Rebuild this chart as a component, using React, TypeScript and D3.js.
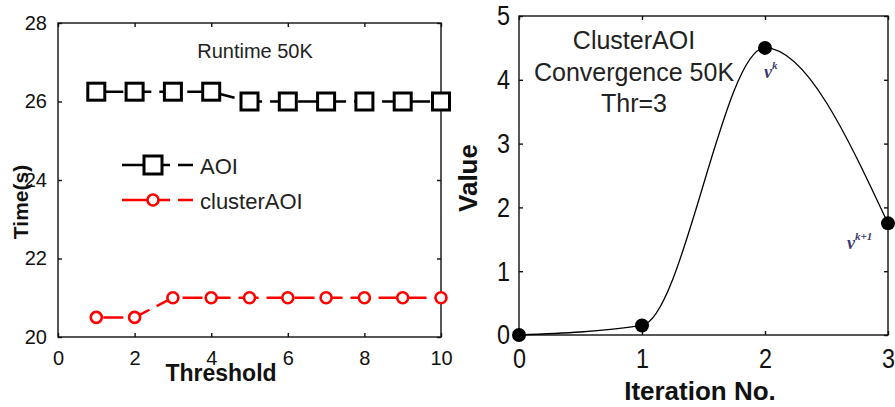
import React, { useEffect, useRef } from 'react';
import * as d3 from 'd3';

// left panel: runtime vs threshold
const thresholds = [1, 2, 3, 4, 5, 6, 7, 8, 9, 10];
const aoiTime = [26.25, 26.25, 26.25, 26.25, 26, 26, 26, 26, 26, 26];
const clusterAoiTime = [20.5, 20.5, 21, 21, 21, 21, 21, 21, 21, 21];
const leftXTicks = [0, 2, 4, 6, 8, 10];
const leftYTicks = [20, 22, 24, 26, 28];

// right panel: convergence
const iterations = [0, 1, 2, 3];
const convergenceValue = [0, 0.15, 4.5, 1.75];
const rightXTicks = [0, 1, 2, 3];
const rightYTicks = [0, 1, 2, 3, 4, 5];

const SANS = '"Liberation Sans", Arial, sans-serif';

export default function App() {
  const ref = useRef<SVGSVGElement | null>(null);

  useEffect(() => {
    if (!ref.current) return;
    const svg = d3.select(ref.current);
    svg.selectAll('*').remove();
    svg.append('rect').attr('width', 895).attr('height', 407).attr('fill', '#fff');

    // ---------- left panel ----------
    const x1 = d3.scaleLinear().domain([0, 10]).range([58, 441]);
    const y1 = d3.scaleLinear().domain([20, 28]).range([337, 23]);
    const L = svg.append('g');

    L.append('rect')
      .attr('x', x1(0)).attr('y', y1(28))
      .attr('width', x1(10) - x1(0)).attr('height', y1(20) - y1(28))
      .attr('fill', 'none').attr('stroke', '#111').attr('stroke-width', 1.4);

    const styleAxis = (g: any, size: number, narrow = false) => {
      g.select('.domain').remove();
      g.selectAll('line').attr('stroke', '#111').attr('stroke-width', 1.4);
      const t = g.selectAll('text').attr('fill', '#111').style('font-size', `${size}px`).style('font-family', SANS);
      // the right panel uses a tall narrow face for its tick numbers
      if (narrow) t.attr('textLength', 13).attr('lengthAdjust', 'spacingAndGlyphs');
    };

    L.append('g').attr('transform', `translate(0,${y1(20)})`)
      .call(d3.axisBottom(x1).tickValues(leftXTicks).tickSize(-4).tickPadding(14).tickFormat(d3.format('d')))
      .call((g: any) => styleAxis(g, 20));
    L.append('g').attr('transform', `translate(0,${y1(28)})`)
      .call(d3.axisTop(x1).tickValues(leftXTicks).tickSize(-4).tickFormat(() => ''))
      .call((g: any) => styleAxis(g, 20));
    L.append('g').attr('transform', `translate(${x1(0)},0)`)
      .call(d3.axisLeft(y1).tickValues(leftYTicks).tickSize(-4).tickPadding(11).tickFormat(d3.format('d')))
      .call((g: any) => styleAxis(g, 20));
    L.append('g').attr('transform', `translate(${x1(10)},0)`)
      .call(d3.axisRight(y1).tickValues(leftYTicks).tickSize(-4).tickFormat(() => ''))
      .call((g: any) => styleAxis(g, 20));

    const line1 = d3.line<number>().x((_, i) => x1(thresholds[i])).y(d => y1(d));
    const dash = '20,8';

    L.append('path').datum(aoiTime).attr('d', line1)
      .attr('fill', 'none').attr('stroke', '#000').attr('stroke-width', 2.5)
      .attr('stroke-dasharray', dash).attr('stroke-dashoffset', 21);
    L.append('path').datum(clusterAoiTime).attr('d', line1)
      .attr('fill', 'none').attr('stroke', '#ff0000').attr('stroke-width', 2.5)
      .attr('stroke-dasharray', dash).attr('stroke-dashoffset', 21);

    L.selectAll('.sq').data(aoiTime).enter().append('rect')
      .attr('x', (_, i) => x1(thresholds[i]) - 8.5).attr('y', d => y1(d) - 8.5)
      .attr('width', 17).attr('height', 17)
      .attr('fill', '#fff').attr('stroke', '#000').attr('stroke-width', 3);
    L.selectAll('.ci').data(clusterAoiTime).enter().append('circle')
      .attr('cx', (_, i) => x1(thresholds[i])).attr('cy', d => y1(d)).attr('r', 5.5)
      .attr('fill', '#fff').attr('stroke', '#ff0000').attr('stroke-width', 2.6);

    L.append('text').attr('x', 255).attr('y', 58).attr('text-anchor', 'middle')
      .style('font-family', SANS).style('font-size', '20px').attr('fill', '#222')
      .text('Runtime 50K');

    // legend
    const legend = [
      { label: 'AOI', color: '#000', shape: 'square', y: 165 },
      { label: 'clusterAOI', color: '#ff0000', shape: 'circle', y: 200 },
    ];
    legend.forEach(item => {
      L.append('line').attr('x1', 122).attr('x2', 193).attr('y1', item.y).attr('y2', item.y)
        .attr('stroke', item.color).attr('stroke-width', 2.5).attr('stroke-dasharray', '48,8,15');
      if (item.shape === 'square') {
        L.append('rect').attr('x', 153 - 9).attr('y', item.y - 9).attr('width', 18).attr('height', 18)
          .attr('fill', '#fff').attr('stroke', item.color).attr('stroke-width', 3);
      } else {
        L.append('circle').attr('cx', 153).attr('cy', item.y).attr('r', 5.5)
          .attr('fill', '#fff').attr('stroke', item.color).attr('stroke-width', 2.6);
      }
      L.append('text').attr('x', 200).attr('y', item.y + 9)
        .style('font-family', SANS).style('font-size', '22px').attr('fill', '#222')
        .text(item.label);
    });

    L.append('text').attr('x', 221).attr('y', 381).attr('text-anchor', 'middle')
      .style('font-family', SANS).style('font-size', '23px').style('font-weight', 'bold').attr('fill', '#111')
      .text('Threshold');
    L.append('text').attr('transform', 'translate(28,202) rotate(-90)').attr('text-anchor', 'middle')
      .style('font-family', SANS).style('font-size', '21px').style('font-weight', 'bold').attr('fill', '#111')
      .text('Time(s)');

    // ---------- right panel ----------
    const x2 = d3.scaleLinear().domain([0, 3]).range([519, 888]);
    const y2 = d3.scaleLinear().domain([0, 5]).range([335, 16]);
    const R = svg.append('g');

    R.append('rect')
      .attr('x', x2(0)).attr('y', y2(5))
      .attr('width', x2(3) - x2(0)).attr('height', y2(0) - y2(5))
      .attr('fill', 'none').attr('stroke', '#111').attr('stroke-width', 1.4);

    R.append('g').attr('transform', `translate(0,${y2(0)})`)
      .call(d3.axisBottom(x2).tickValues(rightXTicks).tickSize(-4).tickPadding(13).tickFormat(d3.format('d')))
      .call((g: any) => styleAxis(g, 28, true));
    R.append('g').attr('transform', `translate(0,${y2(5)})`)
      .call(d3.axisTop(x2).tickValues(rightXTicks).tickSize(-4).tickFormat(() => ''))
      .call((g: any) => styleAxis(g, 28));
    R.append('g').attr('transform', `translate(${x2(0)},0)`)
      .call(d3.axisLeft(y2).tickValues(rightYTicks).tickSize(-4).tickPadding(9).tickFormat(d3.format('d')))
      .call((g: any) => styleAxis(g, 28, true));
    R.append('g').attr('transform', `translate(${x2(3)},0)`)
      .call(d3.axisRight(y2).tickValues(rightYTicks).tickSize(-4).tickFormat(() => ''))
      .call((g: any) => styleAxis(g, 28));

    const line2 = d3.line<number>()
      .x((_, i) => x2(iterations[i])).y(d => y2(d))
      .curve(d3.curveMonotoneX);
    R.append('path').datum(convergenceValue).attr('d', line2)
      .attr('fill', 'none').attr('stroke', '#000').attr('stroke-width', 1.3);

    R.selectAll('.pt').data(convergenceValue).enter().append('circle')
      .attr('cx', (_, i) => x2(iterations[i])).attr('cy', d => y2(d)).attr('r', 7)
      .attr('fill', '#000');

    ['ClusterAOI', 'Convergence 50K', 'Thr=3'].forEach((t, i) => {
      R.append('text').attr('x', 634).attr('y', 49 + i * 31.5).attr('text-anchor', 'middle')
        .style('font-family', SANS).style('font-size', '25px').attr('fill', '#222')
        .text(t);
    });

    const annot = [
      { i: 2, sup: 'k', dx: -1, dy: 30 },
      { i: 3, sup: 'k+1', dx: -41, dy: 26 },
    ];
    annot.forEach(a => {
      const t = R.append('text')
        .attr('x', x2(iterations[a.i]) + a.dx).attr('y', y2(convergenceValue[a.i]) + a.dy)
        .style('font-family', '"Liberation Serif", "DejaVu Serif", serif')
        .style('font-style', 'italic').style('font-weight', 'bold').attr('fill', '#3a3a6e');
      t.append('tspan').style('font-size', '18px').text('v');
      t.append('tspan').attr('dy', -9).style('font-size', '11px').text(a.sup);
    });

    R.append('text').attr('x', 700).attr('y', 400).attr('text-anchor', 'middle')
      .style('font-family', SANS).style('font-size', '26px').style('font-weight', 'bold').attr('fill', '#111')
      .text('Iteration No.');
    R.append('text').attr('transform', 'translate(477,178) rotate(-90)').attr('text-anchor', 'middle')
      .style('font-family', SANS).style('font-size', '26px').style('font-weight', 'bold').attr('fill', '#111')
      .text('Value');
  }, []);

  return (
    <div style={{ position: 'fixed', left: 0, top: 0 }}>
      <svg ref={ref} width={895} height={407} style={{ display: 'block' }}></svg>
    </div>
  );
}
